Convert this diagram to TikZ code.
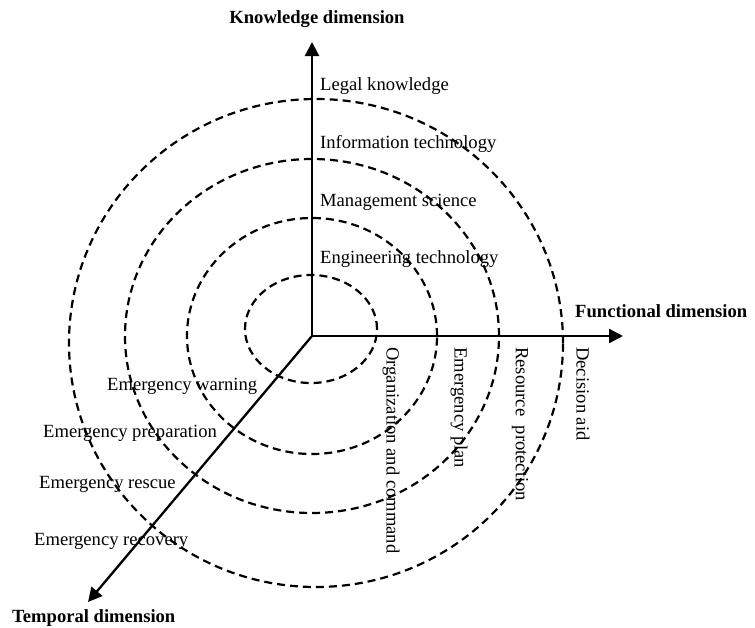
\documentclass[tikz,border=0pt]{standalone}
\usepackage{fontspec}
\setmainfont{Liberation Serif}
\usepackage{tikz}
\usetikzlibrary{arrows.meta}
\tikzset{
	axis/.style={-{Triangle[length=14pt, width=14pt]}, line width=2.3pt},
	ring/.style={dash pattern=on 8pt off 5pt, line width=2.2pt},
	tag/.style={font=\fontsize{18.6}{22}\selectfont, inner sep=0pt},
	dimension/.style={tag, font=\fontsize{18.6}{22}\selectfont\bfseries},
	vtag/.style={tag, rotate=-90, anchor=west}
}

\begin{document}
\begin{tikzpicture}[x=1pt, y=-1pt]
		\useasboundingbox (0,0) rectangle (755,627);
		
		% Origin and axis tips
		\coordinate (O) at (312,336);
		\coordinate (Ktip) at (312,42);
		\coordinate (Ftip) at (623,336);
		\coordinate (Ttip) at (88,602);
		
		% Dashed rings
		\draw[ring] (311,329) ellipse [x radius=66pt, y radius=54pt];
		\draw[ring] (312,336) ellipse [x radius=125pt, y radius=118pt];
		\draw[ring] (312,336) ellipse [x radius=187pt, y radius=177pt];
		\draw[ring] (316,343) ellipse [x radius=247pt, y radius=244pt];
		
		% Axes
		\draw[axis] (O) -- (Ktip);   % knowledge
		\draw[axis] (O) -- (Ftip);   % functional
		\draw[axis] (O) -- (Ttip);   % temporal
		
		% Axis titles
		\node[dimension, anchor=base] (know) at (317,23) {Knowledge dimension};
		\node[dimension, anchor=base west] (func) at (575,317) {Functional dimension};
		\node[dimension, anchor=base west] (temp) at (12,622) {Temporal dimension};
		
		% Knowledge levels
		\node[tag, anchor=base west] (legal) at (320,90) {Legal knowledge};
		\node[tag, anchor=base west] (info) at (320,148) {Information technology};
		\node[tag, anchor=base west] (mgmt) at (320,206) {Management science};
		\node[tag, anchor=base west] (eng) at (320,263) {Engineering technology};
		
		% Functional levels (vertical text)
		\node[vtag] (org) at (391,347) {Organization and command};
		\node[vtag] (plan) at (459,347) {Emergency plan};
		\node[vtag] (res) at (520,347) {Resource~~protection};
		\node[vtag] (dec) at (583,347) {Decision aid};
		
		% Temporal stages
		\node[tag, anchor=base west] (warn) at (107,390) {Emergency warning};
		\node[tag, anchor=base west] (prep) at (43,437) {Emergency preparation};
		\node[tag, anchor=base west] (resc) at (39,488) {Emergency rescue};
		\node[tag, anchor=base west] (recov) at (34,545) {Emergency recovery};
		
	\end{tikzpicture}
\end{document}
